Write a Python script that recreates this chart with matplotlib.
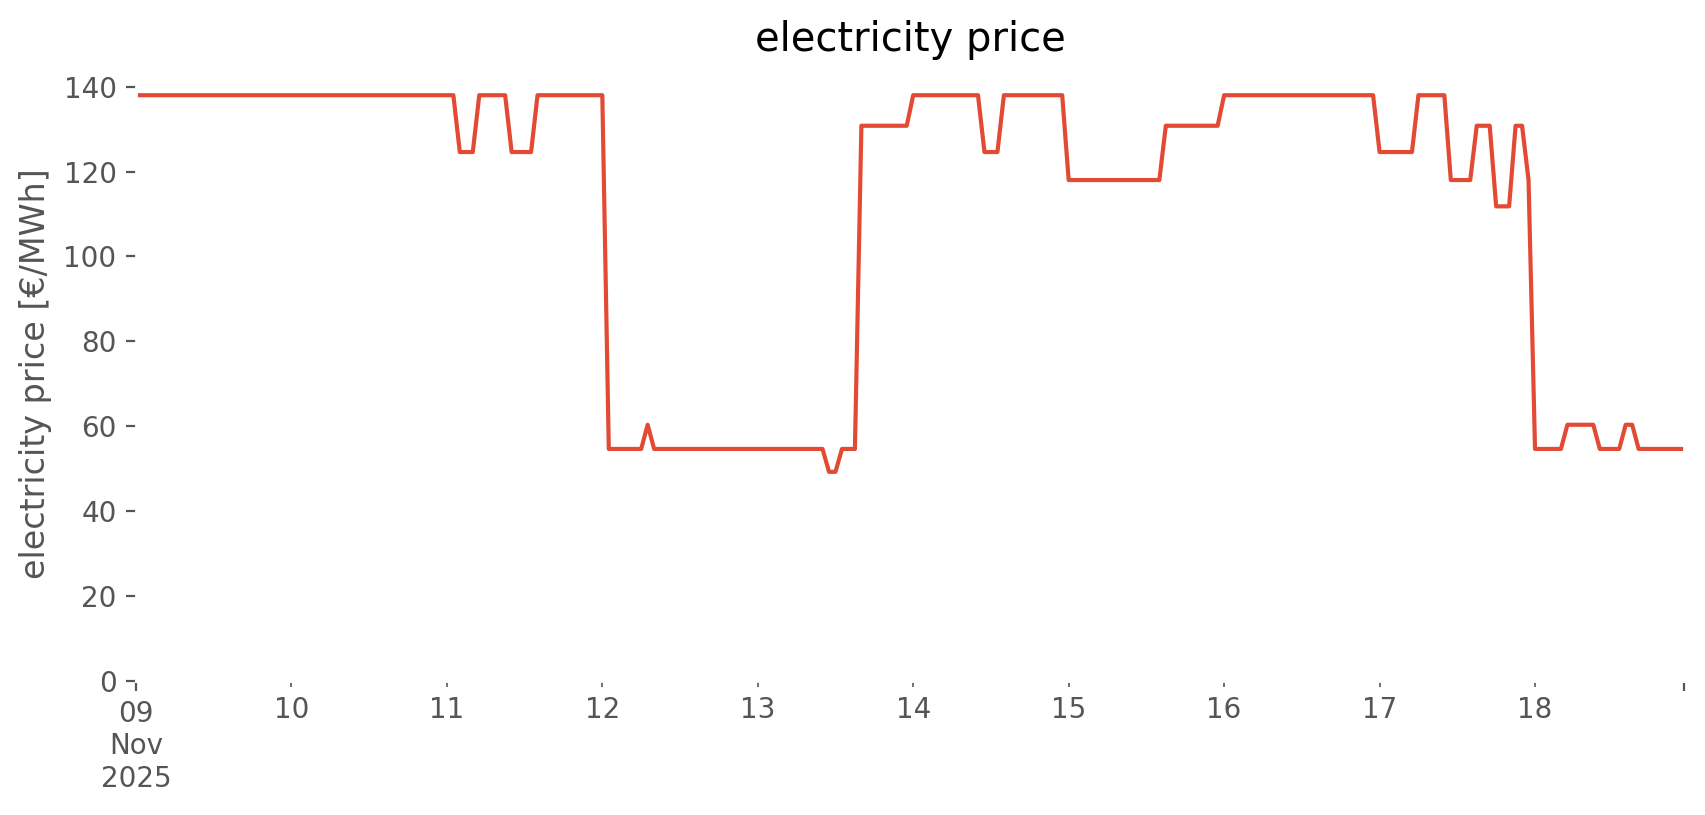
import matplotlib
matplotlib.use('agg')
import matplotlib.pyplot as plt
import numpy as np
import pandas as pd

plt.style.use('ggplot')

# hourly day-ahead price, stored as run-lengths (level, number of hours)
start_time = '2025-11-09 00:00'
price_levels = [138.0, 124.6, 138.0, 124.6, 138.0, 54.6, 60.3, 54.6, 49.2, 54.6,
                130.8, 138.0, 124.6, 138.0, 118.0, 130.8, 138.0, 124.6, 138.0, 118.0,
                130.8, 111.8, 130.8, 118.0, 54.6, 60.3, 54.6, 60.3, 54.6]
hours_at_level = [50, 3, 5, 4, 11, 6, 1, 27, 2, 3,
                  8, 11, 3, 10, 15, 9, 24, 6, 5, 4,
                  3, 3, 2, 1, 5, 5, 4, 2, 8]

day_labels = ['10', '11', '12', '13', '14', '15', '16', '17', '18']
first_label = '09\nNov\n2025'

price = np.repeat(price_levels, hours_at_level)
times = pd.date_range(start_time, periods=len(price), freq='h')

fig = plt.figure(figsize=(8.53, 4.075), dpi=200)
ax = fig.add_axes([0.0797, 0.165, 0.9074, 0.752])
ax.set_facecolor('white')
ax.grid(False)

ax.plot(times, price, color='#E24A33', linewidth=1.5)

ax.set_xlim(times[0], times[-1])
ax.set_ylim(0, 144.5)

days = pd.date_range('2025-11-10', periods=len(day_labels), freq='D')
ax.set_xticks([times[0], times[-1]])
ax.set_xticklabels([first_label, ''])
ax.set_xticks(days, minor=True)
ax.set_xticklabels(day_labels, minor=True)
ax.tick_params(axis='x', which='minor', labelsize=10, colors='#555555')

ax.set_yticks(np.arange(0, 141, 20))

ax.set_title('electricity price')
ax.set_ylabel('electricity price [€/MWh]')

plt.savefig('out.png', format='png')
